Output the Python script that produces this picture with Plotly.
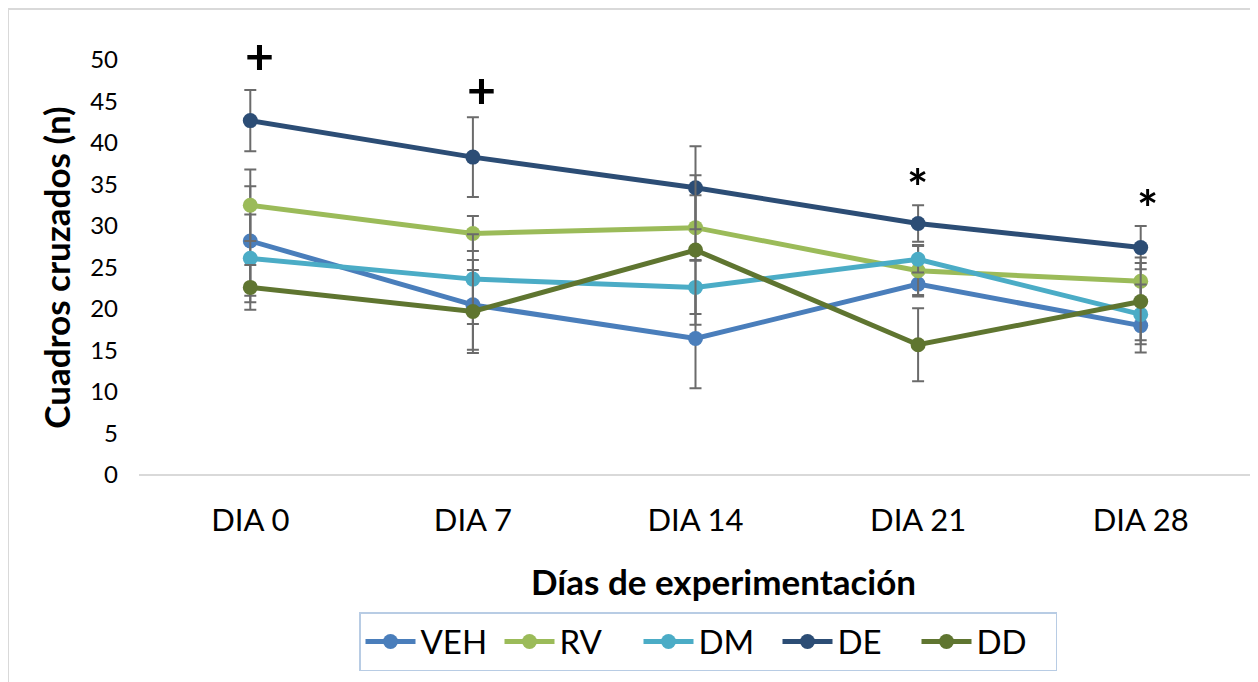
import plotly.graph_objects as go

days = ["DIA 0", "DIA 7", "DIA 14", "DIA 21", "DIA 28"]
series_names = ["VEH", "RV", "DM", "DE", "DD"]
veh = [28.2, 20.5, 16.45, 23.0, 18.0]
veh_err = [6.6, 5.4, 6.0, 1.3, 3.25]
rv = [32.5, 29.1, 29.8, 24.6, 23.35]
rv_err = [4.3, 2.1, 3.9, 3.1, 2.85]
dm = [26.1, 23.6, 22.6, 26.0, 19.35]
dm_err = [5.3, 5.4, 3.2, 1.6, 3.6]
de = [42.7, 38.3, 34.6, 30.3, 27.4]
de_err = [3.7, 4.8, 5.0, 2.2, 2.6]
dd = [22.6, 19.7, 27.1, 15.7, 20.9]
dd_err = [2.7, 5.0, 9.0, 4.4, 4.65]

sig_days = ["DIA 0", "DIA 7", "DIA 21", "DIA 28"]
sig_marks = ["+", "+", "*", "*"]
sig_y = [50.0, 46.45, 34.75, 32.2]

x_title = "Días de experimentación"
y_title = "Cuadros cruzados (n)"

colors = ["#4a7ebb", "#9bbb59", "#4bacc6", "#2c4d75", "#5f7530"]
values = [veh, rv, dm, de, dd]
errors = [veh_err, rv_err, dm_err, de_err, dd_err]

FONT = "Lato"
# page has an 8px body margin, so the figure is sized to fit the window
W, H = 1250, 674
L, R, T, B = 131, 6, 52, 207
pw, ph = W - L - R, H - T - B

fig = go.Figure()
for name, c, v, e in zip(series_names, colors, values, errors):
    fig.add_trace(go.Scatter(
        x=days, y=v, name=name, mode="lines+markers",
        line=dict(color=c, width=5),
        marker=dict(color=c, size=15),
        error_y=dict(type="data", array=e, visible=True, color="#6b6b6b",
                     thickness=2, width=6),
    ))

sig_xshift = [9, 9, -1, 7]
sig_yshift = [5, 0, 0, 0]
for d, m, yv, xs, ys in zip(sig_days, sig_marks, sig_y, sig_xshift, sig_yshift):
    fig.add_annotation(x=d, y=yv, xref="x", yref="y", text="<b>%s</b>" % m,
                       showarrow=False, xshift=xs, yshift=ys,
                       font=dict(family=FONT, size=50, color="black"))

# x-axis title (slightly right of centre, as in the original)
fig.add_annotation(x=(716 - L) / pw, y=(H - B - 573) / ph, xref="paper", yref="paper",
                   text="<b>%s</b>" % x_title, showarrow=False,
                   xanchor="center", yanchor="middle",
                   font=dict(family=FONT, size=35, color="black"))

# outer chart frame (left/top visible)
fig.add_shape(type="rect", xref="paper", yref="paper",
              x0=(0 - L) / pw, x1=1.2, y0=-1.0, y1=(H - B - 1) / ph,
              line=dict(color="#d9d9d9", width=2), fillcolor="rgba(0,0,0,0)",
              layer="below")

fig.update_layout(
    width=W, height=H,
    margin=dict(l=L, r=R, t=T, b=B, autoexpand=False),
    paper_bgcolor="white", plot_bgcolor="white",
    font=dict(family=FONT, color="black"),
    showlegend=True,
    legend=dict(orientation="h", x=(700 - L) / pw, xanchor="center",
                y=(H - B - 604) / ph, yanchor="top",
                font=dict(family=FONT, size=33, color="black"),
                bordercolor="#b8cce4", borderwidth=1.5, bgcolor="white",
                itemwidth=50, entrywidth=74, entrywidthmode="pixels"),
    xaxis=dict(
        type="category", range=[-0.5, 4.5], showgrid=False, zeroline=False,
        showline=False, ticks="",
        tickfont=dict(family=FONT, size=31, color="black"),
        ticklabelstandoff=24,
    ),
    yaxis=dict(
        range=[0, 50], dtick=5, showgrid=False, zeroline=True,
        zerolinecolor="#d9d9d9", zerolinewidth=2, showline=False, ticks="",
        tickfont=dict(family=FONT, size=24, color="black"),
        ticklabelstandoff=20,
        title=dict(text="<b>%s</b>" % y_title,
                   font=dict(family=FONT, size=35, color="black"), standoff=8),
    ),
)

fig.write_html("out.html")
